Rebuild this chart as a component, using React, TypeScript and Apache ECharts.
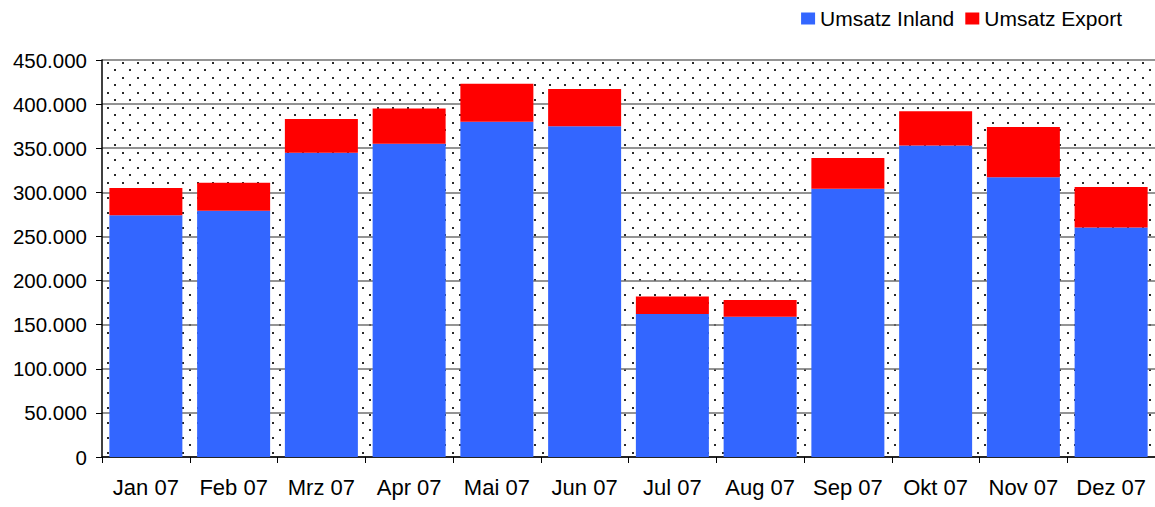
import React, { useEffect, useRef } from "react";
import * as echarts from "echarts";

const categories = ["Jan 07", "Feb 07", "Mrz 07", "Apr 07", "Mai 07", "Jun 07", "Jul 07", "Aug 07", "Sep 07", "Okt 07", "Nov 07", "Dez 07"];
const umsatzInland = [274000, 279000, 345000, 355000, 380000, 375000, 162000, 159000, 304000, 353000, 317000, 260000];
const umsatzExport = [31000, 32000, 38000, 40000, 43000, 42000, 20000, 19000, 35000, 39000, 57000, 46000];
const seriesNames = ["Umsatz Inland", "Umsatz Export"];

function makeDotPattern(): HTMLCanvasElement {
  const c = document.createElement("canvas");
  c.width = 15;
  c.height = 15;
  const ctx = c.getContext("2d")!;
  ctx.fillStyle = "#ffffff";
  ctx.fillRect(0, 0, 15, 15);
  ctx.fillStyle = "#2a2a2a";
  ctx.fillRect(2, 2, 2, 2);
  ctx.fillRect(9, 9, 2, 2);
  return c;
}

function fmt(v: number): string {
  return String(Math.round(v)).replace(/\B(?=(\d{3})+(?!\d))/g, ".");
}

export default function App() {
  const ref = useRef<HTMLDivElement>(null);
  useEffect(() => {
    if (!ref.current) return;
    const chart = echarts.init(ref.current, undefined, { renderer: "svg" });
    const font = "'Liberation Sans', Arial, sans-serif";
    chart.setOption({
      animation: false,
      backgroundColor: "#ffffff",
      textStyle: { fontFamily: font },
      legend: {
        data: seriesNames,
        right: 28,
        top: 3,
        itemWidth: 14,
        itemHeight: 12,
        itemGap: 11,
        icon: "rect",
        textStyle: { fontSize: 21, color: "#000", fontFamily: font, padding: [0, 0, 0, 0] },
      },
      grid: {
        left: 102,
        top: 60,
        width: 1056,
        height: 397,
        show: true,
        borderWidth: 0,
        backgroundColor: { image: makeDotPattern(), repeat: "repeat" },
      },
      xAxis: {
        type: "category",
        data: categories,
        axisLine: { show: true, lineStyle: { color: "#000", width: 1.5 } },
        axisTick: { show: true, interval: 0, length: 6, lineStyle: { color: "#000" } },
        axisLabel: { interval: 0, fontSize: 22, color: "#000", margin: 19, fontFamily: font },
      },
      yAxis: {
        type: "value",
        min: 0,
        max: 450000,
        interval: 50000,
        axisLine: { show: true, lineStyle: { color: "#000", width: 1.5 } },
        axisTick: { show: true, length: 6, lineStyle: { color: "#000" } },
        axisLabel: { fontSize: 20.5, color: "#000", margin: 15, fontFamily: font, formatter: (v: number) => fmt(v) },
        splitLine: { show: true, lineStyle: { color: "#707070", width: 1.5 } },
      },
      series: [
        {
          name: seriesNames[0],
          type: "bar",
          stack: "total",
          barWidth: 73,
          data: umsatzInland,
          itemStyle: { color: "#3366FF" },
        },
        {
          name: seriesNames[1],
          type: "bar",
          stack: "total",
          barWidth: 73,
          data: umsatzExport,
          itemStyle: { color: "#FF0000" },
        },
      ],
    });
    return () => chart.dispose();
  }, []);
  return <div ref={ref} style={{ position: "fixed", left: 0, top: 0, width: 1155, height: 507 }} />;
}
